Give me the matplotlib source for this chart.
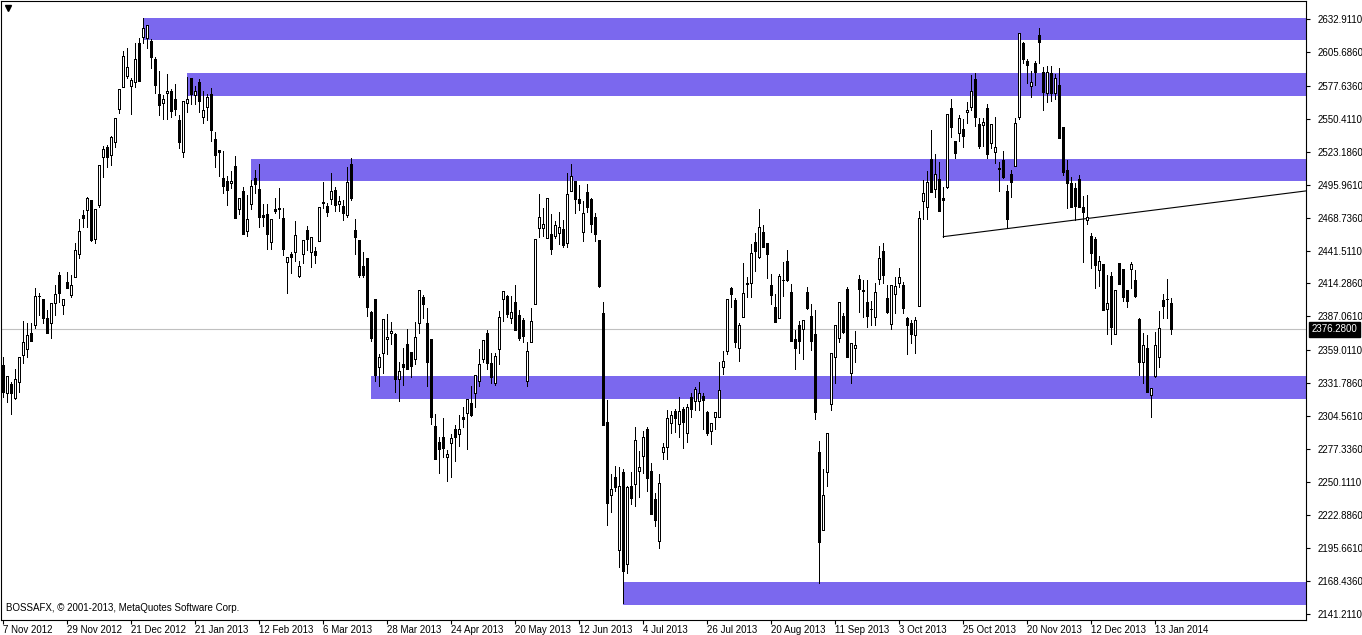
import numpy as np
import matplotlib
matplotlib.use("Agg")
import matplotlib.pyplot as plt
from matplotlib.patches import Rectangle

# daily OHLC, BOSSAFX index, 7 Nov 2012 .. mid Jan 2014
opens = [2346.9, 2324.0, 2331.2, 2319.3, 2333.1, 2355.2, 2359.8, 2373.6, 2379.9, 2404.2,
         2401.2, 2385.5, 2381.3, 2397.9, 2421.3, 2396.5, 2415.8, 2404.8, 2419.4, 2438.4,
         2470.9, 2475.0, 2483.3, 2450.8, 2479.1, 2518.5, 2527.3, 2520.5, 2531.5, 2558.2,
         2576.9, 2586.0, 2577.5, 2581.1, 2612.8, 2617.8, 2617.0, 2615.0, 2599.6, 2570.9,
         2563.8, 2571.5, 2573.4, 2566.5, 2549.4, 2523.3, 2563.2, 2584.2, 2569.8, 2580.9,
         2552.2, 2560.5, 2570.9, 2533.7, 2524.7, 2501.5, 2498.8, 2497.1, 2511.4, 2475.6,
         2490.5, 2458.0, 2480.3, 2501.2, 2492.4, 2470.7, 2471.7, 2448.3, 2475.6, 2476.4,
         2468.2, 2431.8, 2438.4, 2440.1, 2420.8, 2438.4, 2458.5, 2440.6, 2441.2, 2449.7,
         2481.7, 2478.3, 2484.4, 2491.6, 2479.7, 2478.3, 2471.2, 2513.1, 2458.5, 2450.3,
         2428.8, 2435.6, 2390.7, 2401.5, 2345.6, 2356.6, 2368.2, 2373.1, 2372.5, 2335.6,
         2347.7, 2363.9, 2357.3, 2351.6, 2381.9, 2402.8, 2381.3, 2368.1, 2296.5, 2283.0,
         2287.1, 2271.1, 2282.7, 2293.7, 2289.6, 2303.6, 2306.9, 2315.2, 2323.4, 2333.4,
         2352.1, 2373.0, 2348.2, 2332.3, 2359.8, 2401.1, 2403.9, 2385.4, 2398.7, 2388.2,
         2384.1, 2333.6, 2365.6, 2397.3, 2459.8, 2459.8, 2451.6, 2455.1, 2453.5, 2455.7,
         2459.0, 2447.4, 2491.0, 2498.9, 2483.8, 2456.5, 2489.6, 2483.8, 2468.9, 2450.2,
         2389.6, 2299.5, 2239.4, 2254.0, 2194.0, 2258.2, 2182.1, 2246.9, 2248.2, 2259.5,
         2271.7, 2293.7, 2259.3, 2236.0, 2201.0, 2275.3, 2279.4, 2298.7, 2309.2, 2298.2,
         2310.3, 2291.0, 2320.2, 2317.4, 2317.4, 2321.3, 2308.4, 2292.7, 2304.2, 2304.2,
         2345.0, 2358.8, 2410.3, 2400.6, 2360.7, 2386.3, 2414.4, 2415.0, 2448.9, 2436.5,
         2456.6, 2447.5, 2412.8, 2394.6, 2385.5, 2417.2, 2432.9, 2407.3, 2368.1, 2379.7,
         2376.4, 2407.3, 2387.4, 2372.6, 2274.7, 2210.6, 2258.8, 2315.0, 2353.8, 2369.5,
         2387.7, 2409.7, 2340.6, 2361.3, 2418.0, 2408.9, 2398.7, 2393.2, 2386.9, 2417.7,
         2441.2, 2402.0, 2380.5, 2405.3, 2414.4, 2412.8, 2385.8, 2381.4, 2371.7, 2395.7,
         2482.8, 2477.8, 2516.9, 2492.1, 2500.4, 2484.7, 2494.4, 2559.1, 2532.1, 2538.4,
         2542.0, 2555.8, 2559.9, 2583.1, 2546.1, 2545.6, 2559.1, 2530.2, 2523.3, 2509.8,
         2516.4, 2490.5, 2504.8, 2511.4, 2552.2, 2612.8, 2597.9, 2577.5, 2596.3, 2619.7,
         2589.1, 2572.0, 2588.0, 2572.0, 2578.4, 2543.4, 2508.1, 2497.1, 2493.5, 2500.4,
         2477.3, 2466.8, 2453.6, 2450.8, 2425.5, 2430.2, 2393.0, 2420.8, 2372.3, 2431.0,
         2426.0, 2409.0, 2426.0, 2417.2, 2385.3, 2349.7, 2360.7, 2322.2, 2338.1, 2353.3,
         2400.7, 2401.2, 2397.9]
highs = [2353.8, 2337.8, 2333.1, 2343.3, 2353.8, 2383.5, 2381.3, 2381.3, 2410.3, 2406.7,
         2401.2, 2392.4, 2397.9, 2413.0, 2424.0, 2401.2, 2424.0, 2421.3, 2447.4, 2467.3,
         2475.0, 2485.5, 2483.3, 2475.6, 2512.2, 2527.9, 2528.7, 2536.2, 2550.8, 2574.7,
         2606.7, 2608.6, 2583.8, 2613.4, 2617.0, 2634.0, 2628.0, 2616.1, 2601.2, 2590.2,
         2569.8, 2587.5, 2574.8, 2579.2, 2553.6, 2564.9, 2584.7, 2584.2, 2577.6, 2583.1,
         2573.7, 2570.9, 2575.6, 2539.3, 2524.7, 2523.8, 2503.2, 2507.3, 2519.7, 2484.7,
         2494.4, 2487.5, 2499.9, 2508.1, 2513.1, 2480.0, 2480.0, 2467.3, 2484.7, 2492.9,
         2476.4, 2435.9, 2440.6, 2466.0, 2433.2, 2450.3, 2461.8, 2452.5, 2444.7, 2477.3,
         2498.2, 2480.6, 2505.9, 2494.3, 2486.6, 2483.3, 2510.9, 2517.7, 2467.6, 2450.3,
         2440.6, 2435.6, 2391.8, 2401.5, 2356.0, 2384.7, 2389.1, 2382.2, 2373.0, 2349.6,
         2360.6, 2376.3, 2357.3, 2382.1, 2408.6, 2404.7, 2394.0, 2368.1, 2306.4, 2287.1,
         2303.3, 2276.6, 2289.8, 2297.3, 2305.5, 2311.9, 2318.5, 2329.5, 2338.9, 2359.8,
         2367.3, 2375.8, 2356.5, 2357.1, 2391.5, 2408.3, 2404.7, 2403.9, 2413.0, 2392.3,
         2385.4, 2365.6, 2393.7, 2450.7, 2488.2, 2476.4, 2484.6, 2471.7, 2466.2, 2473.0,
         2466.7, 2505.3, 2513.0, 2498.9, 2495.6, 2482.7, 2496.5, 2485.2, 2472.8, 2450.2,
         2399.2, 2318.0, 2256.8, 2263.4, 2262.8, 2260.6, 2246.9, 2258.7, 2295.9, 2275.8,
         2292.3, 2295.9, 2266.1, 2241.0, 2257.0, 2282.7, 2309.7, 2309.2, 2310.3, 2320.2,
         2312.0, 2314.7, 2323.5, 2328.5, 2333.2, 2324.1, 2309.2, 2298.7, 2308.1, 2349.7,
         2358.8, 2401.2, 2411.7, 2402.0, 2381.4, 2431.5, 2419.4, 2446.9, 2455.7, 2475.6,
         2462.6, 2447.5, 2422.1, 2405.6, 2422.1, 2432.3, 2442.0, 2413.9, 2375.9, 2383.6,
         2384.1, 2411.1, 2397.3, 2392.4, 2284.4, 2260.7, 2290.5, 2356.6, 2379.7, 2398.7,
         2389.6, 2411.1, 2364.8, 2375.0, 2421.3, 2417.2, 2417.2, 2400.1, 2414.4, 2445.3,
         2448.0, 2412.8, 2412.8, 2419.4, 2426.8, 2415.5, 2386.9, 2384.1, 2386.9, 2474.5,
         2499.9, 2507.3, 2541.2, 2521.1, 2514.5, 2494.4, 2554.1, 2566.8, 2532.1, 2553.6,
         2550.0, 2564.1, 2586.6, 2588.0, 2550.8, 2550.8, 2562.7, 2545.9, 2552.2, 2514.5,
         2523.8, 2495.7, 2508.1, 2550.8, 2621.1, 2614.2, 2599.6, 2589.9, 2598.5, 2625.2,
         2593.0, 2594.1, 2594.1, 2587.5, 2592.1, 2543.4, 2516.4, 2502.1, 2497.6, 2504.0,
         2486.6, 2487.5, 2456.3, 2453.0, 2437.1, 2430.2, 2421.3, 2424.1, 2408.9, 2431.0,
         2426.0, 2409.0, 2432.4, 2425.5, 2386.1, 2373.1, 2371.7, 2327.7, 2374.5, 2391.6,
         2405.4, 2417.8, 2402.1]
lows = [2320.7, 2316.6, 2306.4, 2318.5, 2324.9, 2348.8, 2353.8, 2367.0, 2377.2, 2388.2,
        2381.3, 2373.6, 2368.9, 2388.2, 2399.2, 2389.0, 2410.3, 2403.4, 2419.4, 2435.1,
        2461.2, 2461.2, 2449.7, 2448.0, 2477.8, 2502.0, 2510.8, 2512.2, 2526.8, 2554.9,
        2576.9, 2583.8, 2554.3, 2577.0, 2581.9, 2613.4, 2608.7, 2592.2, 2571.5, 2553.6,
        2550.6, 2550.0, 2551.7, 2553.6, 2526.0, 2519.1, 2556.3, 2562.7, 2562.7, 2556.3,
        2546.7, 2549.4, 2532.4, 2510.9, 2503.2, 2489.4, 2479.2, 2493.0, 2468.7, 2471.8,
        2454.9, 2453.6, 2475.6, 2488.9, 2461.3, 2461.8, 2442.8, 2442.8, 2472.8, 2468.2,
        2437.8, 2406.7, 2423.3, 2433.2, 2419.9, 2431.0, 2442.0, 2428.2, 2431.5, 2449.7,
        2476.4, 2470.1, 2480.0, 2474.5, 2474.5, 2466.8, 2469.5, 2483.3, 2438.7, 2419.4,
        2419.4, 2387.7, 2366.8, 2334.0, 2329.9, 2340.6, 2356.0, 2364.3, 2324.8, 2317.4,
        2330.3, 2343.8, 2337.2, 2347.7, 2373.0, 2385.4, 2329.8, 2297.8, 2268.9, 2257.3,
        2271.1, 2251.3, 2254.6, 2267.8, 2279.9, 2295.9, 2277.7, 2304.7, 2311.9, 2329.8,
        2349.1, 2343.3, 2331.7, 2330.6, 2347.7, 2383.5, 2386.3, 2381.9, 2375.8, 2367.5,
        2366.2, 2329.8, 2365.6, 2397.3, 2452.9, 2453.5, 2451.6, 2438.3, 2451.6, 2446.9,
        2444.1, 2444.7, 2491.0, 2472.2, 2475.0, 2449.4, 2473.6, 2457.1, 2449.6, 2411.6,
        2297.3, 2214.6, 2225.6, 2243.0, 2180.2, 2150.4, 2174.7, 2232.0, 2230.3, 2237.5,
        2257.9, 2243.0, 2223.4, 2214.0, 2196.0, 2269.0, 2269.0, 2291.0, 2291.8, 2287.1,
        2278.1, 2283.6, 2304.2, 2309.7, 2309.7, 2293.8, 2289.1, 2281.6, 2293.8, 2304.2,
        2339.5, 2356.0, 2394.6, 2362.1, 2350.5, 2386.3, 2403.4, 2402.9, 2424.9, 2435.1,
        2444.7, 2418.6, 2397.3, 2382.7, 2385.5, 2404.0, 2416.4, 2367.1, 2343.9, 2357.1,
        2352.2, 2393.2, 2359.3, 2302.3, 2166.5, 2210.6, 2246.9, 2309.7, 2332.3, 2366.2,
        2373.1, 2353.8, 2332.3, 2349.7, 2391.0, 2386.9, 2378.6, 2379.7, 2379.7, 2413.6,
        2415.0, 2389.6, 2376.7, 2389.6, 2411.1, 2389.6, 2356.0, 2365.4, 2356.6, 2395.7,
        2467.4, 2467.4, 2489.7, 2486.1, 2474.5, 2453.0, 2493.5, 2535.7, 2517.8, 2532.4,
        2526.9, 2547.2, 2557.7, 2544.5, 2526.0, 2528.0, 2517.8, 2526.0, 2513.6, 2491.0,
        2501.2, 2459.9, 2486.1, 2511.4, 2550.0, 2596.8, 2580.3, 2568.2, 2578.4, 2596.3,
        2557.7, 2564.6, 2565.4, 2566.5, 2534.8, 2504.0, 2476.4, 2477.3, 2466.8, 2477.8,
        2432.4, 2463.5, 2426.9, 2410.9, 2412.2, 2392.4, 2372.3, 2364.3, 2372.3, 2413.6,
        2400.1, 2394.6, 2410.9, 2403.4, 2338.7, 2331.8, 2324.9, 2304.3, 2336.8, 2345.6,
        2385.5, 2385.5, 2372.6]
closes = [2324.9, 2337.8, 2323.5, 2335.0, 2353.8, 2366.2, 2371.7, 2367.0, 2403.9, 2403.9,
          2385.5, 2373.6, 2397.9, 2405.6, 2406.7, 2401.2, 2410.3, 2413.0, 2441.9, 2457.9,
          2468.1, 2484.6, 2450.2, 2475.6, 2512.2, 2525.1, 2518.5, 2535.6, 2550.8, 2574.7,
          2602.3, 2592.9, 2582.4, 2599.6, 2581.9, 2625.2, 2628.0, 2601.2, 2578.1, 2561.6,
          2566.5, 2573.4, 2557.2, 2558.8, 2531.5, 2564.9, 2566.8, 2570.9, 2573.4, 2565.4,
          2557.7, 2568.2, 2541.2, 2520.5, 2523.3, 2495.2, 2491.6, 2498.8, 2468.7, 2484.7,
          2454.9, 2467.4, 2494.9, 2496.6, 2469.6, 2469.6, 2455.2, 2467.3, 2474.2, 2476.1,
          2442.5, 2435.9, 2436.5, 2454.4, 2428.8, 2450.3, 2451.4, 2452.5, 2437.9, 2477.3,
          2480.6, 2473.7, 2490.7, 2478.9, 2482.5, 2472.8, 2498.2, 2485.0, 2453.0, 2421.3,
          2421.3, 2395.1, 2369.5, 2338.7, 2353.3, 2384.7, 2369.8, 2375.3, 2335.6, 2342.2,
          2345.5, 2343.8, 2346.3, 2369.7, 2408.6, 2397.0, 2349.6, 2304.2, 2268.9, 2277.2,
          2278.0, 2273.3, 2286.3, 2287.6, 2293.7, 2302.5, 2318.5, 2305.3, 2338.9, 2347.4,
          2367.3, 2348.2, 2337.2, 2354.3, 2386.3, 2408.3, 2389.0, 2390.4, 2375.8, 2369.5,
          2371.1, 2358.7, 2383.5, 2450.7, 2468.9, 2463.4, 2484.6, 2443.0, 2462.3, 2460.6,
          2445.8, 2488.2, 2503.1, 2483.8, 2481.0, 2472.2, 2477.7, 2463.1, 2454.9, 2412.2,
          2297.3, 2233.1, 2244.1, 2246.3, 2246.9, 2176.9, 2245.8, 2236.7, 2284.9, 2262.3,
          2287.1, 2253.2, 2223.4, 2219.0, 2249.0, 2278.9, 2302.9, 2305.6, 2302.9, 2309.2,
          2300.1, 2312.5, 2310.3, 2326.8, 2323.5, 2318.0, 2291.0, 2298.7, 2308.1, 2326.3,
          2350.5, 2401.2, 2405.3, 2366.2, 2379.7, 2406.2, 2414.0, 2439.2, 2441.4, 2460.7,
          2444.7, 2438.4, 2404.5, 2382.7, 2420.5, 2417.2, 2417.2, 2367.1, 2361.3, 2367.1,
          2384.1, 2394.3, 2367.1, 2307.8, 2200.9, 2239.5, 2290.5, 2356.6, 2379.7, 2398.7,
          2373.9, 2353.8, 2364.8, 2363.2, 2410.0, 2407.8, 2387.7, 2393.2, 2407.0, 2435.1,
          2421.3, 2391.0, 2412.8, 2412.2, 2419.4, 2394.3, 2379.7, 2372.8, 2384.1, 2468.2,
          2488.8, 2497.9, 2489.7, 2504.5, 2474.5, 2483.6, 2554.1, 2543.9, 2522.4, 2550.8,
          2536.5, 2557.7, 2573.7, 2552.2, 2528.0, 2547.5, 2521.1, 2545.9, 2526.9, 2508.7,
          2502.6, 2467.9, 2498.5, 2546.7, 2621.1, 2599.6, 2594.6, 2581.1, 2589.4, 2614.2,
          2572.9, 2589.4, 2572.0, 2583.9, 2534.8, 2506.7, 2497.1, 2477.3, 2478.6, 2477.8,
          2473.7, 2469.6, 2439.8, 2429.6, 2432.9, 2392.4, 2397.9, 2378.1, 2408.9, 2413.6,
          2403.4, 2400.1, 2430.2, 2404.0, 2349.2, 2363.5, 2324.9, 2327.7, 2363.5, 2377.3,
          2395.7, 2401.2, 2376.28]

# support / resistance zones (start bar, top price, bottom price)
zone_start = [35, 46, 62, 92, 155]
zone_top = [2633.7, 2588.3, 2517.2, 2337.8, 2167.5]
zone_bottom = [2615.5, 2569.2, 2499.0, 2319.0, 2148.5]

# trend line through two (bar, price) points, drawn as a ray to the right
trend_bars = [235, 294]
trend_prices = [2453.0, 2477.6]

last_price = 2376.28

price_ticks = [2632.911, 2605.686, 2577.636, 2550.411, 2523.186, 2495.961, 2468.736,
               2441.511, 2414.286, 2387.061, 2359.011, 2331.786, 2304.561, 2277.336,
               2250.111, 2222.886, 2195.661, 2168.436, 2141.211]
date_labels = ["7 Nov 2012", "29 Nov 2012", "21 Dec 2012", "21 Jan 2013", "12 Feb 2013",
               "6 Mar 2013", "28 Mar 2013", "24 Apr 2013", "20 May 2013", "12 Jun 2013",
               "4 Jul 2013", "26 Jul 2013", "20 Aug 2013", "11 Sep 2013", "3 Oct 2013",
               "25 Oct 2013", "20 Nov 2013", "12 Dec 2013", "13 Jan 2014"]
date_every = 16

o = np.array(opens)
h = np.array(highs)
l = np.array(lows)
c = np.array(closes)
x = np.arange(len(c))

plt.rcParams['font.family'] = ['Liberation Sans', 'DejaVu Sans']

fig = plt.figure(figsize=(13.62, 6.35), dpi=100)
ax = fig.add_axes([1 / 1362, 15 / 635, 1305 / 1362, 619 / 635])
xmin, xmax = -0.575, 325.675
ax.set_xlim(xmin, xmax)
ax.set_ylim(2136.1, 2647.8)

# zones
for s, t, b in zip(zone_start, zone_top, zone_bottom):
    ax.add_patch(Rectangle((s, b), xmax - s, t - b, facecolor='#7B68EE',
                           edgecolor='none', zorder=1))

# last price line
ax.axhline(last_price, color='#C0C0C0', lw=0.8, zorder=1.5)

# trend line
slope = (trend_prices[1] - trend_prices[0]) / (trend_bars[1] - trend_bars[0])
ax.plot([trend_bars[0], xmax], [trend_prices[0], trend_prices[0] + slope * (xmax - trend_bars[0])],
        color='black', lw=0.8, zorder=2)

# candles
ax.vlines(x, l, h, color='black', lw=0.7, zorder=3, antialiased=False)
up = c >= o
body_lo = np.minimum(o, c)
body_h = np.maximum(np.abs(c - o), 0.01)
ax.bar(x[up], body_h[up], bottom=body_lo[up], width=0.5, color='white',
       edgecolor='black', linewidth=0.7, zorder=4, antialiased=False)
ax.bar(x[~up], body_h[~up], bottom=body_lo[~up], width=0.5, color='black',
       edgecolor='black', linewidth=0.7, zorder=4, antialiased=False)

# axes look
for sp in ax.spines.values():
    sp.set_color('black')
    sp.set_linewidth(0.8)
ax.yaxis.tick_right()
ax.set_yticks(price_ticks)
ax.set_yticklabels(['%.4f' % p for p in price_ticks])
ax.tick_params(axis='y', direction='out', length=3, width=0.8, pad=5, labelsize=7)
xt = np.arange(len(date_labels)) * date_every
ax.set_xticks(xt)
ax.set_xticklabels(date_labels, ha='left')
ax.tick_params(axis='x', direction='out', length=3, width=0.8, pad=0.5, labelsize=7)

# last price tag on the price scale
ax.annotate('%.4f' % last_price, xy=(1.0, last_price), xycoords=('axes fraction', 'data'),
            xytext=(4, 0), textcoords='offset points', va='center', ha='left',
            fontsize=7, color='white',
            bbox=dict(boxstyle='square,pad=0.25', facecolor='black', edgecolor='black'),
            annotation_clip=False)

ax.text(0.004, 0.012, 'BOSSAFX, \u00a9 2001-2013, MetaQuotes Software Corp.',
        transform=ax.transAxes, fontsize=7, ha='left', va='bottom')
ax.plot([0.005], [0.989], marker='v', markersize=4, color='black', transform=ax.transAxes,
        clip_on=False)

fig.savefig('out.png', dpi=100)
